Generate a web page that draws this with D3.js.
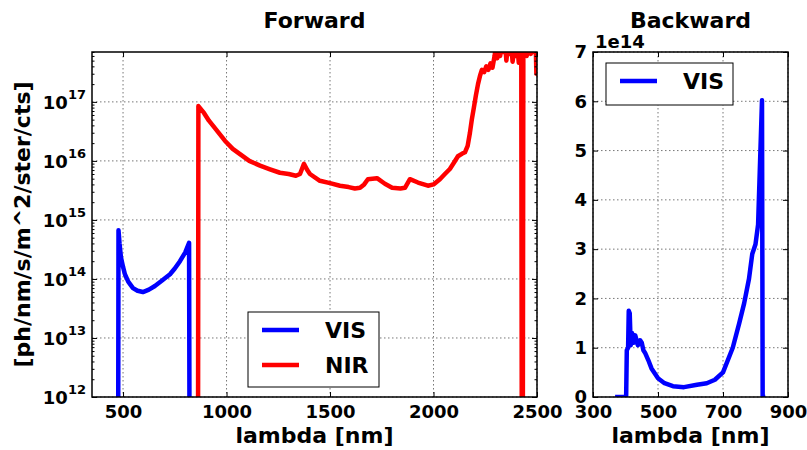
<!DOCTYPE html>
<html>
<head>
<meta charset="utf-8">
<script src="https://cdn.jsdelivr.net/npm/d3@7"></script>
<style>
  body { margin: 0; background: #fff; }
  svg text { font-family: "DejaVu Sans", sans-serif; font-weight: bold; fill: #000; }
  .grid line { stroke: #777; stroke-width: 1; stroke-dasharray: 1.5,2.5; }
  .axis path { display: none; }
  .axis line { stroke: #000; stroke-width: 1; }
  .axis text { font-size: 18px; }
</style>
</head>
<body>
<div id="chart"></div>
<script>
// ---- data ----
// Forward, VIS spectrometer (nm, ph/nm/s/m^2/ster/cts)
const fwdVisLambda = [476, 478, 483, 490, 500, 509, 525, 548, 570, 596, 625, 654, 690, 727, 750, 775, 800, 819, 822];
const fwdVisFlux = [1e10, 6.7e14, 4e14, 2.3e14, 1.6e14, 1.2e14, 9e13, 7e13, 6.3e13, 6e13, 6.6e13, 7.6e13, 9.5e13, 1.2e14, 1.5e14, 2e14, 2.8e14, 4.1e14, 1e10];

// Forward, NIR spectrometer
const fwdNirLambda = [862, 864, 870, 891, 915, 944, 992, 1030, 1065, 1110, 1162, 1210, 1258, 1300, 1335, 1355, 1374, 1390, 1403, 1451,
  1500, 1548, 1590, 1620, 1645, 1665, 1683, 1727, 1765, 1800, 1840, 1862, 1886, 1925, 1973, 2000, 2031, 2055, 2079, 2100,
  2118, 2137, 2152, 2165, 2176, 2185, 2195, 2205, 2215, 2225, 2234, 2245, 2255, 2265, 2275, 2285, 2295, 2300, 2308, 2315,
  2322, 2330, 2338, 2345, 2352, 2360, 2368, 2375, 2382, 2390, 2398, 2405, 2412, 2418, 2424, 2427, 2431, 2434, 2442, 2450,
  2460, 2470, 2480, 2488, 2494, 2497, 2500];
const fwdNirFlux = [1e10, 8.5e16, 8e16, 6.5e16, 4.8e16, 3.6e16, 2.2e16, 1.6e16, 1.3e16, 1e16, 8.3e15, 7.2e15, 6.3e15, 6e15, 5.6e15, 6e15, 8.9e15, 7e15, 6e15, 4.6e15,
  4.2e15, 3.8e15, 3.6e15, 3.4e15, 3.5e15, 4e15, 4.9e15, 5.1e15, 4.1e15, 3.5e15, 3.4e15, 3.5e15, 4.9e15, 4.3e15, 3.8e15, 4e15, 4.9e15, 6e15, 7.3e15, 9.5e15,
  1.2e16, 1.32e16, 1.4e16, 1.8e16, 3e16, 5e16, 8e16, 1.3e17, 2e17, 2.8e17, 3.5e17, 3.2e17, 4e17, 3.5e17, 4.5e17, 3.8e17, 6e17, 8e17, 5.5e17, 9e17,
  6e17, 1e18, 7e17, 1.1e18, 5e17, 9e17, 6.5e17, 1e18, 4.8e17, 8e17, 6e17, 9e17, 4.6e17, 8e17, 6e17, 1e10, 1e10, 7e17, 1e18, 6e17,
  9e17, 6.5e17, 1e18, 7e17, 9e17, 3e17, 3e17];

// Backward, VIS spectrometer
const bwdVisLambda = [368, 402, 404, 408, 410, 413, 416, 420, 425, 430, 438, 445, 450, 455, 460, 470, 480, 500, 520, 546,
  580, 620, 650, 675, 700, 730, 750, 765, 780, 790, 800, 808, 820, 822, 830];
const bwdVisFlux = [0, 0, 0.95e14, 1.0e14, 1.75e14, 1.7e14, 1.05e14, 1.3e14, 1.1e14, 1.25e14, 1.05e14, 1.15e14, 1.1e14, 0.95e14, 0.9e14, 0.75e14, 0.58e14, 0.38e14, 0.28e14, 0.22e14,
  0.2e14, 0.25e14, 0.28e14, 0.35e14, 0.5e14, 1.0e14, 1.5e14, 1.9e14, 2.4e14, 2.9e14, 3.1e14, 3.5e14, 6.02e14, 0, 0];

const fwdXTicks = [500, 1000, 1500, 2000, 2500];
const fwdYTicks = [1e12, 1e13, 1e14, 1e15, 1e16, 1e17];
const bwdXTicks = [300, 500, 700, 900];
const bwdYTicks = [0, 1e14, 2e14, 3e14, 4e14, 5e14, 6e14, 7e14];

const zip = (xs, ys) => xs.map((x, i) => ({x, y: ys[i]}));

const W = 807, H = 450;
const svg = d3.select('#chart').append('svg')
  .attr('width', W)
  .attr('height', H);

const plotTop = 52, height = 345;
const lineW = 4.5;

function frame(g, w, h) {
  g.append('rect')
    .attr('width', w).attr('height', h)
    .attr('fill', 'none').attr('stroke', '#000').attr('stroke-width', 1.5);
}

function grid(g, x, y, xt, yt, w, h) {
  const gg = g.append('g').attr('class', 'grid');
  gg.selectAll('.gx').data(xt).enter().append('line')
    .attr('x1', d => x(d)).attr('x2', d => x(d)).attr('y1', 0).attr('y2', h);
  gg.selectAll('.gy').data(yt).enter().append('line')
    .attr('y1', d => y(d)).attr('y2', d => y(d)).attr('x1', 0).attr('x2', w);
}

function legend(g, items, x0, y0, w, h) {
  const lg = g.append('g').attr('transform', `translate(${x0},${y0})`);
  lg.append('rect')
    .attr('width', w).attr('height', h)
    .attr('fill', '#fff').attr('stroke', '#000').attr('stroke-width', 1);
  items.forEach((it, i) => {
    const cy = 18 + i * 35;
    lg.append('line')
      .attr('x1', 14).attr('x2', 51).attr('y1', cy).attr('y2', cy)
      .attr('stroke', it.color).attr('stroke-width', lineW);
    lg.append('text')
      .attr('x', 77).attr('y', cy + 8)
      .style('font-size', '22px')
      .text(it.label);
  });
}

// ================= Forward (log) =================
{
  const left = 92, width = 445;
  const g = svg.append('g').attr('transform', `translate(${left},${plotTop})`);

  const x = d3.scaleLinear().domain([350, 2500]).range([0, width]);
  const y = d3.scaleLog().domain([1e12, 7e17]).range([height, 0]);

  grid(g, x, y, fwdXTicks, fwdYTicks, width, height);

  g.append('clipPath').attr('id', 'clipF')
    .append('rect').attr('width', width).attr('height', height);

  const line = d3.line().x(d => x(d.x)).y(d => y(d.y));
  const series = [
    {data: zip(fwdVisLambda, fwdVisFlux), color: '#0000ff', label: 'VIS'},
    {data: zip(fwdNirLambda, fwdNirFlux), color: '#ff0000', label: 'NIR'}
  ];
  series.forEach(s => {
    g.append('path')
      .attr('clip-path', 'url(#clipF)')
      .attr('d', line(s.data))
      .attr('fill', 'none')
      .attr('stroke', s.color)
      .attr('stroke-width', lineW)
      .attr('stroke-linejoin', 'round');
  });

  // minor log ticks
  const minor = [];
  for (let e = 12; e <= 17; e++) for (let m = 2; m <= 9; m++) {
    const v = m * Math.pow(10, e);
    if (v <= 7e17) minor.push(v);
  }

  g.append('g').attr('class', 'axis')
    .attr('transform', `translate(0,${height})`)
    .call(d3.axisBottom(x).tickValues(fwdXTicks).tickSize(-5).tickPadding(8).tickFormat(d3.format('d')));
  g.append('g').attr('class', 'axis')
    .call(d3.axisTop(x).tickValues(fwdXTicks).tickSize(-5).tickFormat(''));

  const yl = g.append('g').attr('class', 'axis')
    .call(d3.axisLeft(y).tickValues(fwdYTicks).tickSize(-5).tickPadding(6).tickFormat(''));
  yl.selectAll('.tick text').each(function(d) {
    const t = d3.select(this).attr('dy', null).attr('dominant-baseline', null);
    t.append('tspan').attr('dy', '0.36em').text('10');
    t.append('tspan').attr('dy', '-0.75em').style('font-size', '13px').text(Math.round(Math.log10(d)));
  });
  g.append('g').attr('class', 'axis')
    .attr('transform', `translate(${width},0)`)
    .call(d3.axisRight(y).tickValues(fwdYTicks).tickSize(-5).tickFormat(''));
  g.append('g').attr('class', 'axis')
    .call(d3.axisLeft(y).tickValues(minor).tickSize(-2.5).tickFormat(''));
  g.append('g').attr('class', 'axis')
    .attr('transform', `translate(${width},0)`)
    .call(d3.axisRight(y).tickValues(minor).tickSize(-2.5).tickFormat(''));

  frame(g, width, height);

  legend(g, series, 156, 260, 131, 75);

  svg.append('text')
    .attr('x', left + width / 2).attr('y', 28)
    .attr('text-anchor', 'middle')
    .style('font-size', '22px')
    .text('Forward');
  svg.append('text')
    .attr('x', left + width / 2).attr('y', 443)
    .attr('text-anchor', 'middle')
    .style('font-size', '22px')
    .text('lambda [nm]');
  svg.append('text')
    .attr('transform', `translate(30,${plotTop + height / 2}) rotate(-90)`)
    .attr('text-anchor', 'middle')
    .style('font-size', '22px')
    .text('[ph/nm/s/m^2/ster/cts]');
}

// ================= Backward (linear) =================
{
  const left = 593, width = 195;
  const g = svg.append('g').attr('transform', `translate(${left},${plotTop})`);

  const x = d3.scaleLinear().domain([300, 900]).range([0, width]);
  const y = d3.scaleLinear().domain([0, 7e14]).range([height, 0]);

  grid(g, x, y, bwdXTicks, bwdYTicks, width, height);

  g.append('clipPath').attr('id', 'clipB')
    .append('rect').attr('width', width).attr('height', height);

  const line = d3.line().x(d => x(d.x)).y(d => y(d.y));
  const series = [{data: zip(bwdVisLambda, bwdVisFlux), color: '#0000ff', label: 'VIS'}];
  series.forEach(s => {
    g.append('path')
      .attr('clip-path', 'url(#clipB)')
      .attr('d', line(s.data))
      .attr('fill', 'none')
      .attr('stroke', s.color)
      .attr('stroke-width', lineW)
      .attr('stroke-linejoin', 'round');
  });

  g.append('g').attr('class', 'axis')
    .attr('transform', `translate(0,${height})`)
    .call(d3.axisBottom(x).tickValues(bwdXTicks).tickSize(-5).tickPadding(8).tickFormat(d3.format('d')));
  g.append('g').attr('class', 'axis')
    .call(d3.axisTop(x).tickValues(bwdXTicks).tickSize(-5).tickFormat(''));
  g.append('g').attr('class', 'axis')
    .call(d3.axisLeft(y).tickValues(bwdYTicks).tickSize(-5).tickPadding(6).tickFormat(d => d / 1e14));
  g.append('g').attr('class', 'axis')
    .attr('transform', `translate(${width},0)`)
    .call(d3.axisRight(y).tickValues(bwdYTicks).tickSize(-5).tickFormat(''));

  frame(g, width, height);

  legend(g, series, 13, 11, 127, 42);

  svg.append('text')
    .attr('x', left + 2).attr('y', 48)
    .style('font-size', '18px')
    .text('1e14');
  svg.append('text')
    .attr('x', left + width / 2).attr('y', 28)
    .attr('text-anchor', 'middle')
    .style('font-size', '22px')
    .text('Backward');
  svg.append('text')
    .attr('x', left + width / 2).attr('y', 443)
    .attr('text-anchor', 'middle')
    .style('font-size', '22px')
    .text('lambda [nm]');
}
</script>
</body>
</html>
